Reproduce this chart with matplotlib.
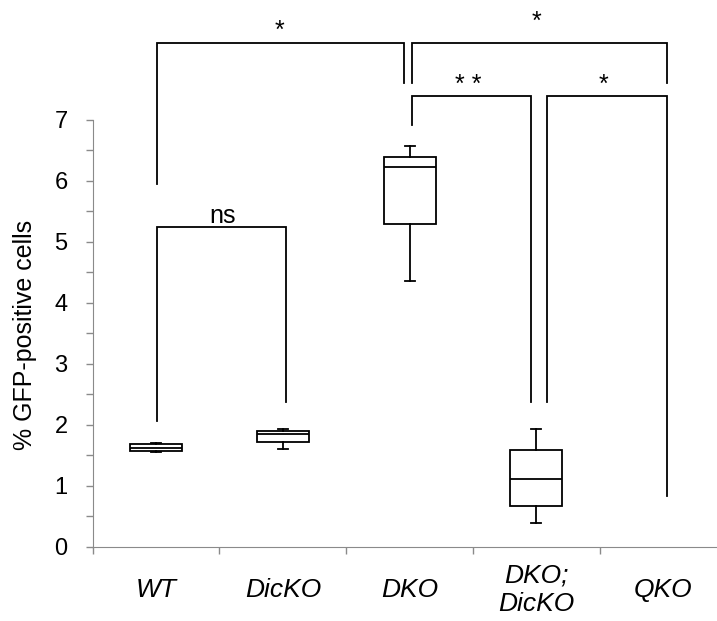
import numpy as np
import matplotlib.pyplot as plt
from matplotlib.ticker import MultipleLocator, FixedLocator

# --- datos ---
grupos = ['WT', 'DicKO', 'DKO', 'DKO;\nDicKO', 'QKO']
whis_lo = [1.552, 1.607, 4.351, 0.384]
q1 = [1.574, 1.721, 5.290, 0.672]
mediana = [1.623, 1.848, 6.220, 1.110]
q3 = [1.679, 1.902, 6.393, 1.580]
whis_hi = [1.705, 1.930, 6.574, 1.925]

# brackets de significancia (x izq, x der, altura, fin pata izq, fin pata der)
br_x_izq = [1.009, 3.017, 3.017, 4.082, 1.009]
br_x_der = [2.956, 5.028, 3.955, 5.028, 2.022]
br_y = [8.262, 8.262, 7.393, 7.393, 5.241]
br_pata_izq = [5.941, 7.597, 6.913, 2.377, 2.066]
br_pata_der = [7.597, 7.597, 2.377, 0.836, 2.377]
br_texto = ['*', '*', '* *', '*', 'ns']
br_texto_x = [1.97, 4.005, 3.46, 4.526, 1.528]
br_texto_y = [8.344, 8.49, 7.459, 7.459, 5.30]

gris = '#8a8a8a'
fuente = ['Liberation Sans', 'DejaVu Sans']

fig = plt.figure(figsize=(7.17, 6.21), dpi=100)
ax = fig.add_axes([92.7 / 717, (621 - 546.7) / 621, (717 - 92.7) / 717, (546.7 - 119.7) / 621])

stats = []
for i in range(len(whis_lo)):
    stats.append(dict(whislo=whis_lo[i], q1=q1[i], med=mediana[i], q3=q3[i], whishi=whis_hi[i]))

lw = 1.3
ax.bxp(stats, positions=range(1, len(stats) + 1), widths=0.41, capwidths=0.08,
       showfliers=False, patch_artist=True,
       boxprops=dict(facecolor='white', edgecolor='black', linewidth=lw),
       medianprops=dict(color='black', linewidth=lw),
       whiskerprops=dict(color='black', linewidth=lw),
       capprops=dict(color='black', linewidth=lw))

# brackets
for i in range(len(br_y)):
    ax.plot([br_x_izq[i], br_x_izq[i], br_x_der[i], br_x_der[i]],
            [br_pata_izq[i], br_y[i], br_y[i], br_pata_der[i]],
            color='black', linewidth=lw, clip_on=False, solid_joinstyle='miter')
    ax.text(br_texto_x[i], br_texto_y[i], br_texto[i], ha='center', va='baseline',
            fontsize=18, family=fuente, clip_on=False)

ax.set_xlim(0.5, 0.5 + (717 - 92.7) / 126.75)
ax.set_ylim(0, 7)

ax.spines['top'].set_visible(False)
ax.spines['right'].set_visible(False)
ax.spines['left'].set_color(gris)
ax.spines['bottom'].set_color(gris)

ax.yaxis.set_major_locator(MultipleLocator(1))
ax.yaxis.set_minor_locator(MultipleLocator(0.5))
ax.tick_params(axis='y', which='both', direction='out', length=5, width=1, color=gris)
ax.tick_params(axis='y', which='major', pad=13, labelsize=17)
for t in ax.get_yticklabels():
    t.set_family(fuente)

ax.xaxis.set_major_locator(FixedLocator(range(1, len(grupos) + 1)))
ax.xaxis.set_minor_locator(FixedLocator(np.arange(0.5, len(grupos) + 1, 1)))
ax.set_xticklabels(grupos, fontsize=19, style='italic', family=fuente, va='center', linespacing=1.2)
ax.tick_params(axis='x', which='major', length=0, pad=31)
ax.tick_params(axis='x', which='minor', direction='out', length=5, width=1, color=gris)

fig.text(25 / 717, 1 - 335 / 621, '% GFP-positive cells', rotation=90, ha='center', va='center',
         fontsize=18, family=fuente)

plt.savefig('out.png', dpi=100)
